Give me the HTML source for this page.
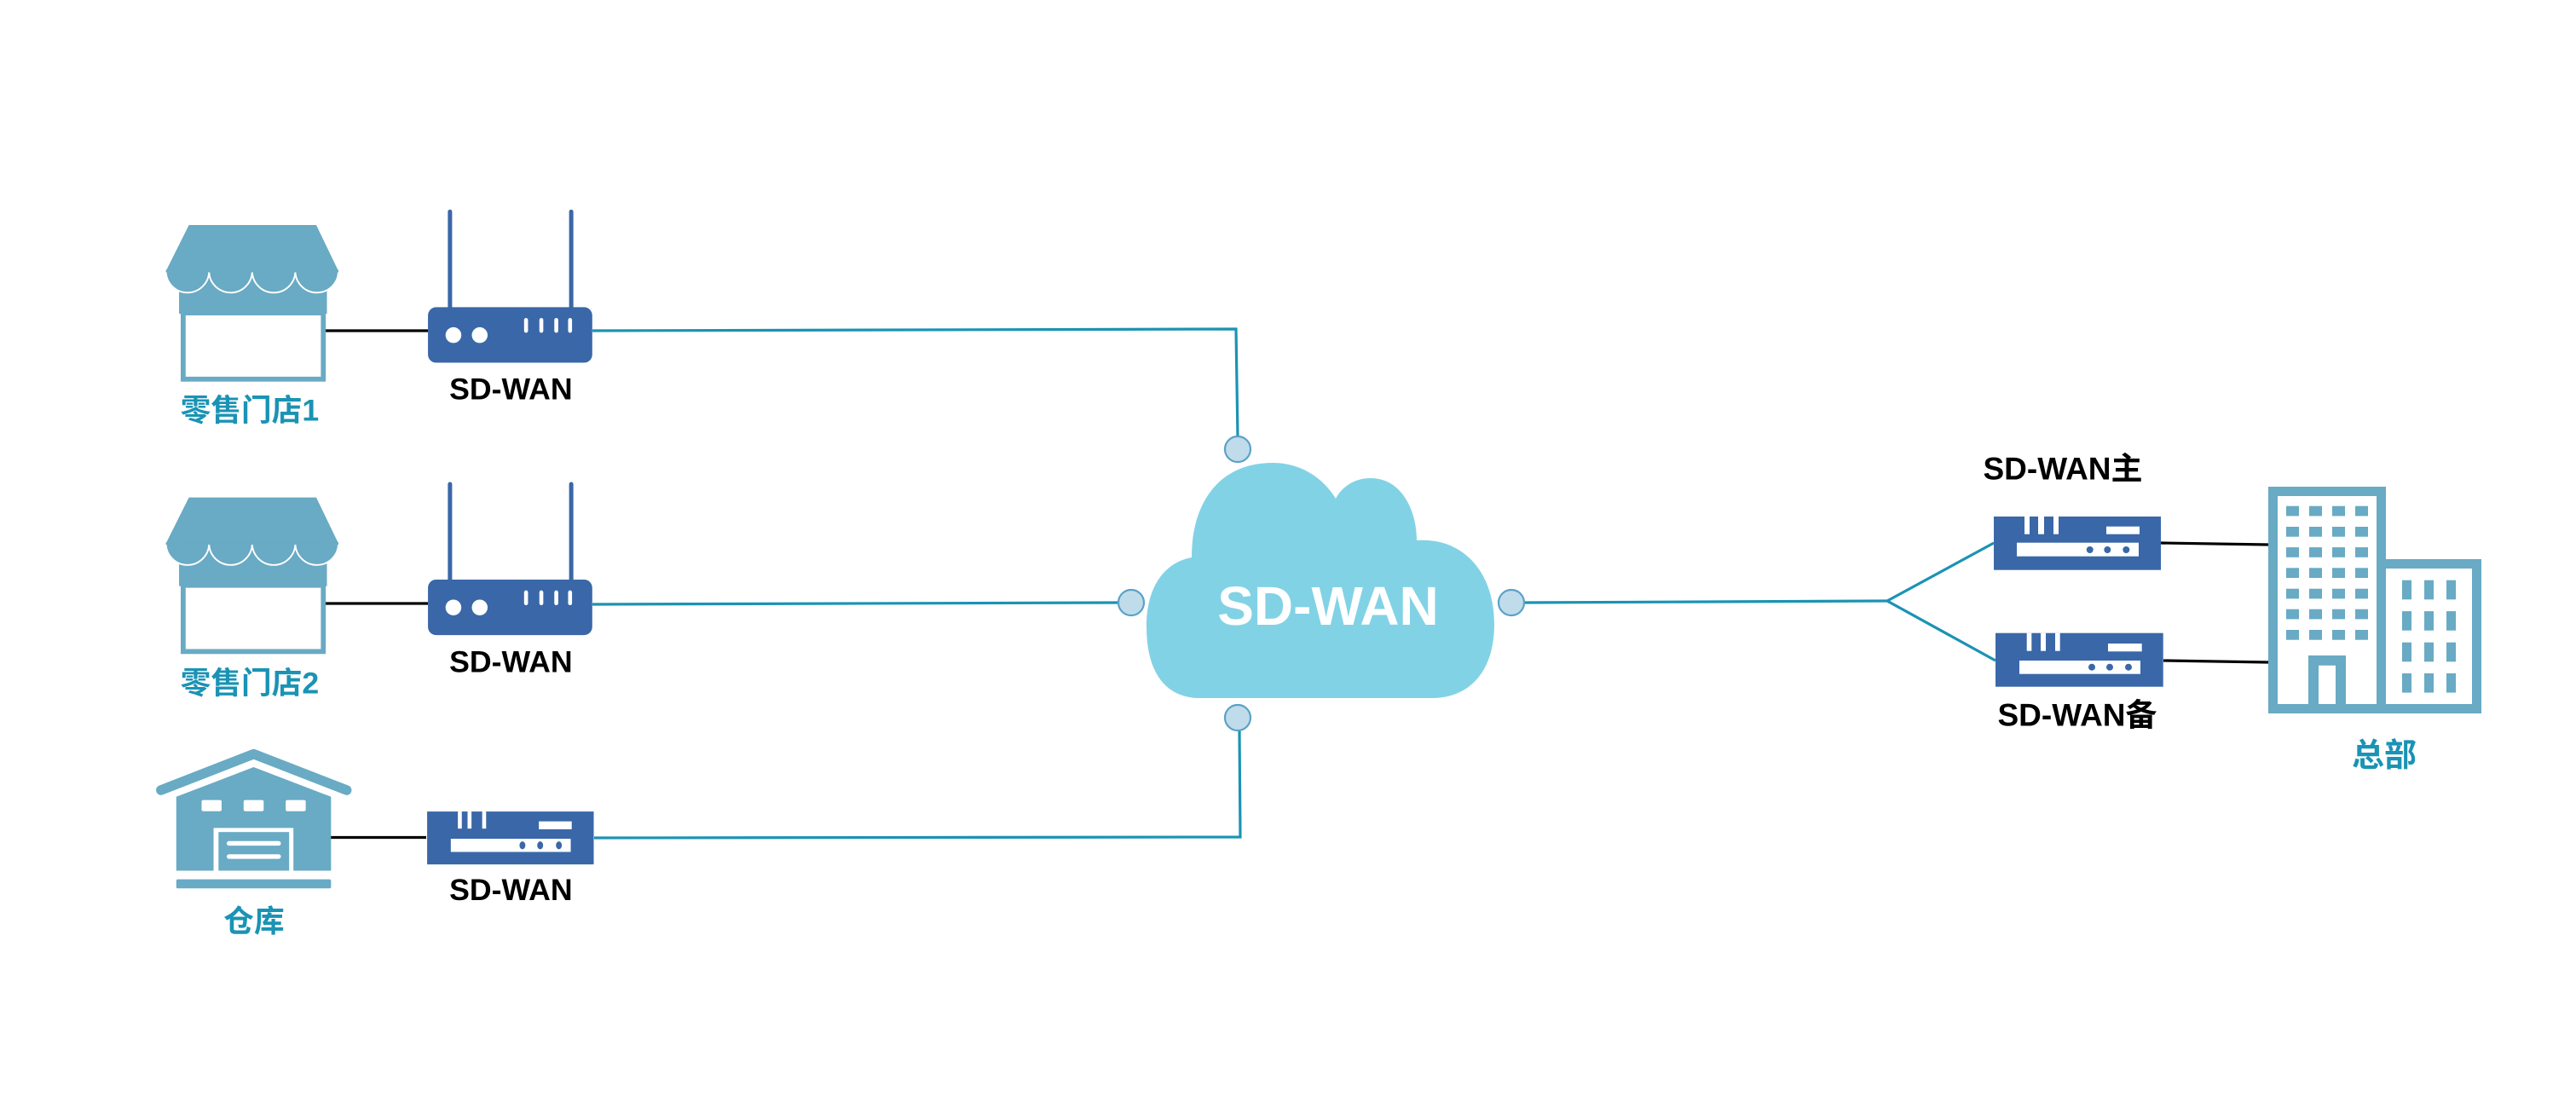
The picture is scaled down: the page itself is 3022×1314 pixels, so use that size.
<!DOCTYPE html>
<html><head><meta charset="utf-8"><style>
html,body{margin:0;padding:0;background:#fff;}
svg{display:block;}
text{font-family:"Liberation Sans","Noto Sans CJK SC",sans-serif;font-weight:bold;}
</style></head><body>
<svg width="3022" height="1314" viewBox="0 0 3022 1314" xmlns="http://www.w3.org/2000/svg">
<rect width="3022" height="1314" fill="#fff"/>
<defs>
<g id="store">
  <polygon points="115,137 192.5,137 206,165 101,165" fill="#69aac4"/>
  <rect x="109" y="164" width="90" height="27" fill="#69aac4"/>
  <path d="M101,165 A13,13 0 0 0 127.25,165 A13,13 0 0 0 153.5,165 A13,13 0 0 0 179.75,165 A13,13 0 0 0 206,165" fill="#69aac4" stroke="#fff" stroke-width="1"/>
  <line x1="101" y1="165" x2="206" y2="165" stroke="#69aac4" stroke-width="1.5"/>
  <rect x="111.5" y="190.5" width="85.3" height="40.3" fill="#fff" stroke="#69aac4" stroke-width="3"/>
</g>
<g id="wrouter">
  <rect x="272.6" y="127.6" width="2.6" height="62" rx="1.3" fill="#3a67a8"/>
  <rect x="346.4" y="127.6" width="2.6" height="62" rx="1.3" fill="#3a67a8"/>
  <rect x="260.5" y="187" width="100" height="33.8" rx="5" fill="#3a67a8"/>
  <circle cx="276" cy="204" r="4.8" fill="#fff"/>
  <circle cx="292" cy="204" r="4.8" fill="#fff"/>
  <rect x="319" y="193.6" width="2.4" height="9" rx="1.2" fill="#fff"/>
  <rect x="328.3" y="193.6" width="2.4" height="9" rx="1.2" fill="#fff"/>
  <rect x="337.4" y="193.6" width="2.4" height="9" rx="1.2" fill="#fff"/>
  <rect x="345.8" y="193.6" width="2.4" height="9" rx="1.2" fill="#fff"/>
</g>
</defs>

<!-- connectors -->
<g fill="none" stroke="#1a93b4" stroke-width="3.2">
  <polyline points="695,388 1450,386 1452,513"/>
  <line x1="695" y1="709" x2="1312" y2="707"/>
  <polyline points="697,983 1455,982 1454,857"/>
  <line x1="1788" y1="707" x2="2214" y2="705"/>
  <polyline points="2339,637 2214,705 2341,775"/>
</g>
<g stroke="#000" stroke-width="3.2">
  <line x1="382" y1="388" x2="502" y2="388"/>
  <line x1="382" y1="708" x2="502" y2="708"/>
  <line x1="382" y1="982.5" x2="500" y2="982.5"/>
  <line x1="2535" y1="637" x2="2661" y2="639"/>
  <line x1="2538" y1="775" x2="2661" y2="777"/>
</g>

<g transform="scale(1.9273)">
  <use href="#store"/>
  <use href="#store" transform="translate(0,165.8)"/>
  <use href="#wrouter"/>
  <use href="#wrouter" transform="translate(0,165.8)"/>
  <text x="152" y="256" font-size="18.5" fill="#1a93b4" text-anchor="middle">零售门店1</text>
  <text x="152" y="422" font-size="18.5" fill="#1a93b4" text-anchor="middle">零售门店2</text>
  <text x="311" y="243" font-size="18.5" fill="#000" text-anchor="middle">SD-WAN</text>
  <text x="311" y="409" font-size="18.5" fill="#000" text-anchor="middle">SD-WAN</text>
  <text x="311" y="548" font-size="18.5" fill="#000" text-anchor="middle">SD-WAN</text>
  <text x="154.6" y="567" font-size="18.5" fill="#1a93b4" text-anchor="middle">仓库</text>
  <!-- warehouse -->
  <polyline points="98,481 154.4,459 211,481" fill="none" stroke="#69aac4" stroke-width="6" stroke-linejoin="round" stroke-linecap="round"/>
  <polygon points="107.3,485 154.4,467 201.5,485 201.5,530 107.3,530" fill="#69aac4"/>
  <rect x="122.7" y="487" width="12.2" height="6.8" rx="1" fill="#fff"/>
  <rect x="148.3" y="487" width="12.2" height="6.8" rx="1" fill="#fff"/>
  <rect x="173.9" y="487" width="12.2" height="6.8" rx="1" fill="#fff"/>
  <rect x="130" y="504" width="48.6" height="26" fill="#fff"/>
  <rect x="133" y="506.5" width="43" height="23.5" fill="#69aac4"/>
  <rect x="138" y="512" width="33" height="2.8" rx="1.4" fill="#fff"/>
  <rect x="138" y="520" width="33" height="2.8" rx="1.4" fill="#fff"/>
  <rect x="107.3" y="535.3" width="94.2" height="5.5" rx="1" fill="#69aac4"/>
  <!-- warehouse router -->
  <rect x="260" y="494" width="101.4" height="32.2" fill="#3a67a8"/>
  <rect x="278.7" y="494" width="2.4" height="10.4" fill="#fff"/>
  <rect x="284.6" y="494" width="2.4" height="10.4" fill="#fff"/>
  <rect x="293.5" y="494" width="2.4" height="10.4" fill="#fff"/>
  <rect x="328" y="500" width="20" height="4.8" fill="#fff"/>
  <rect x="274.4" y="510.6" width="73" height="8" fill="#fff"/>
  <ellipse cx="318" cy="514.6" rx="1.8" ry="2.4" fill="#3a67a8"/>
  <ellipse cx="328.8" cy="514.6" rx="1.8" ry="2.4" fill="#3a67a8"/>
  <ellipse cx="340.2" cy="514.6" rx="1.8" ry="2.4" fill="#3a67a8"/>
</g>

<!-- cloud -->
<path d="M1408,819 C1368,819 1345,790 1345,735 C1345,690 1365,660 1398,654 C1398,590 1430,543 1493,543 C1530,543 1555,565 1567,585 C1575,570 1590,561 1608,561 C1645,561 1662,600 1662,634 C1715,630 1753,670 1753,732 C1753,790 1722,819 1680,819 Z" fill="#82d2e6"/>
<text x="1558" y="733" font-size="64" fill="#fff" text-anchor="middle">SD-WAN</text>
<g fill="#c0dcea" stroke="#5aa2c8" stroke-width="2.2">
  <circle cx="1452" cy="527" r="15"/>
  <circle cx="1327" cy="707" r="15"/>
  <circle cx="1773" cy="707" r="15"/>
  <circle cx="1452" cy="842" r="15"/>
</g>

<!-- HQ routers -->
<g>
  <rect x="2339" y="606" width="196" height="62.7" fill="#3a67a8"/>
  <rect x="2375" y="606" width="6" height="20.7" fill="#fff"/>
  <rect x="2391" y="606" width="7" height="20.7" fill="#fff"/>
  <rect x="2409" y="606" width="6" height="20.7" fill="#fff"/>
  <rect x="2471" y="617.7" width="39" height="9" fill="#fff"/>
  <rect x="2366" y="636.7" width="143" height="16" fill="#fff"/>
  <circle cx="2451.7" cy="645" r="4" fill="#3a67a8"/>
  <circle cx="2472.3" cy="645" r="4" fill="#3a67a8"/>
  <circle cx="2494.3" cy="645" r="4" fill="#3a67a8"/>
</g>
<g>
  <rect x="2341" y="742.7" width="196.7" height="63" fill="#3a67a8"/>
  <rect x="2377.7" y="742.7" width="5.6" height="21" fill="#fff"/>
  <rect x="2394" y="742.7" width="6" height="21" fill="#fff"/>
  <rect x="2411" y="742.7" width="5.7" height="21" fill="#fff"/>
  <rect x="2473" y="755" width="39.7" height="9.3" fill="#fff"/>
  <rect x="2369" y="775" width="142" height="15.7" fill="#fff"/>
  <circle cx="2454" cy="782.7" r="4" fill="#3a67a8"/>
  <circle cx="2475" cy="782.7" r="4" fill="#3a67a8"/>
  <circle cx="2497" cy="782.7" r="4" fill="#3a67a8"/>
</g>
<text x="2420" y="562.7" font-size="37" fill="#000" text-anchor="middle">SD-WAN主</text>
<text x="2437" y="851.7" font-size="37" fill="#000" text-anchor="middle">SD-WAN备</text>

<!-- building -->
<g fill="#69aac4">
  <path d="M2661,571 H2799 V837 H2661 Z M2672,582 V826 H2788 V582 Z" fill-rule="evenodd"/>
  <path d="M2788,656 H2911 V837 H2788 Z M2799,667 V826 H2900 V667 Z" fill-rule="evenodd"/>
  <g id="wrow">
    <rect x="2682" y="593.7" width="15" height="11.7"/>
    <rect x="2709" y="593.7" width="15" height="11.7"/>
    <rect x="2736" y="593.7" width="15" height="11.7"/>
    <rect x="2763" y="593.7" width="15" height="11.7"/>
  </g>
  <use href="#wrow" y="24.3"/>
  <use href="#wrow" y="48.4"/>
  <use href="#wrow" y="72.6"/>
  <use href="#wrow" y="97"/>
  <use href="#wrow" y="121"/>
  <use href="#wrow" y="145.3"/>
  <path d="M2708,769 H2752 V837 H2708 Z M2720,780.7 V837 H2740 V780.7 Z" fill-rule="evenodd"/>
  <g id="srow">
    <rect x="2818" y="680.7" width="11" height="22.6"/>
    <rect x="2844" y="680.7" width="11" height="22.6"/>
    <rect x="2870" y="680.7" width="11" height="22.6"/>
  </g>
  <use href="#srow" y="36.4"/>
  <use href="#srow" y="73"/>
  <use href="#srow" y="109.3"/>
</g>
<text x="2797" y="899" font-size="38" fill="#1a93b4" text-anchor="middle">总部</text>
</svg>
</body></html>
